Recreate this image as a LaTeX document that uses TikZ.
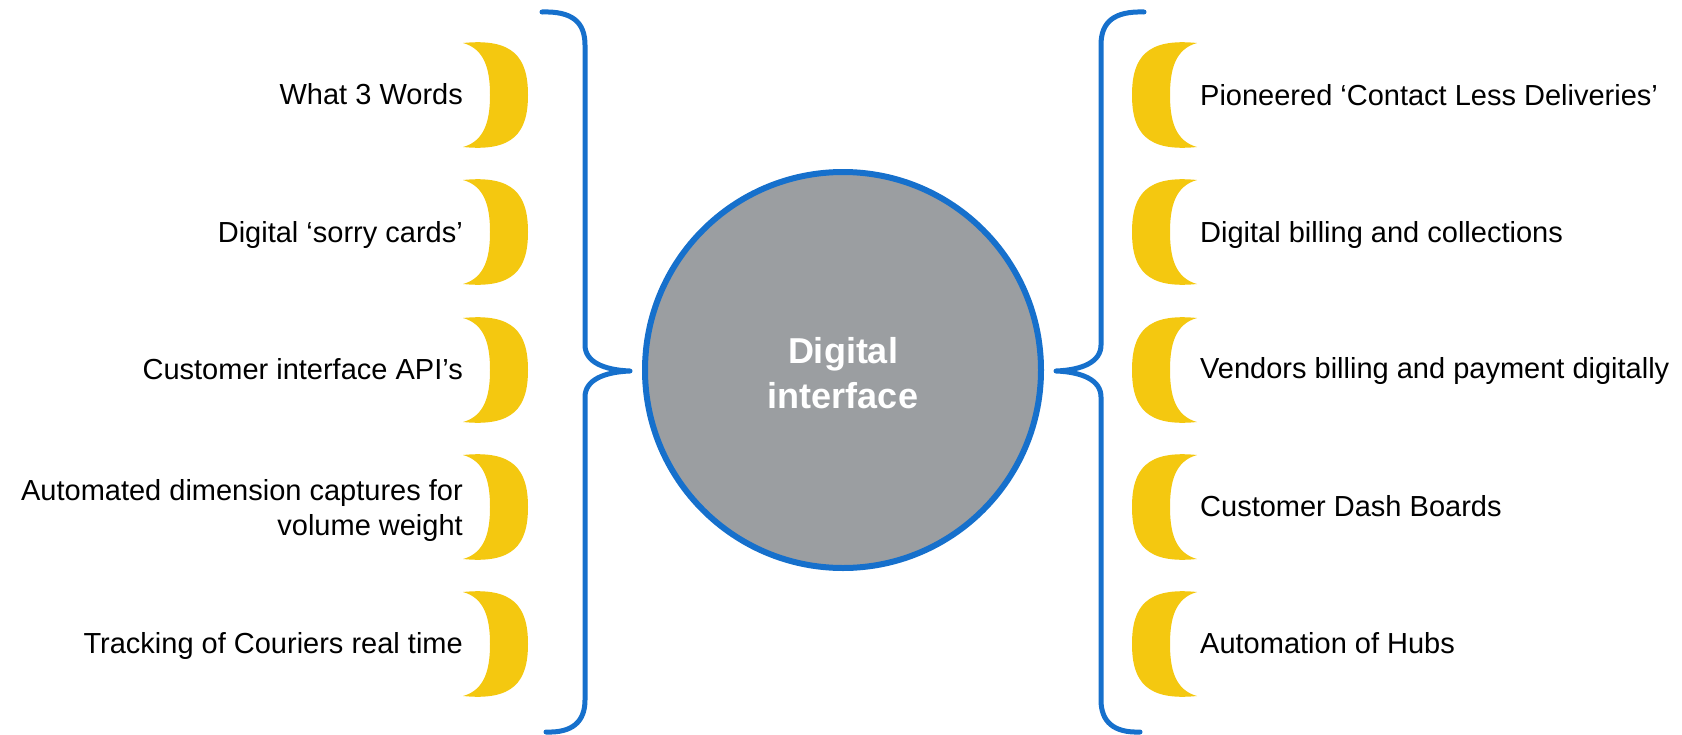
\documentclass[tikz,border=0pt]{standalone}
\usepackage{fontspec}
\setmainfont{Liberation Sans}
\definecolor{braceblue}{RGB}{22,112,204}
\definecolor{moongold}{RGB}{244,200,16}
\definecolor{hubgray}{RGB}{155,158,161}
\begin{document}
\begin{tikzpicture}[x=1pt,y=-1pt,
  item/.style={inner sep=0pt, font=\fontsize{29}{35}\selectfont},
  brace/.style={draw=braceblue, line width=5pt, line cap=round, line join=round},
  moon/.style={fill=moongold},
  % crescent opening to the left
  lmoon/.pic={\fill[moon] (-32,-52) .. controls (18,-57) and (33,-38) .. (33,0)
      .. controls (33,38) and (18,57) .. (-32,52)
      .. controls (-10,46) and (-5,25) .. (-5,0)
      .. controls (-5,-25) and (-10,-46) .. (-32,-52) -- cycle;},
  % crescent opening to the right
  rmoon/.pic={\fill[moon] (32,-52) .. controls (-18,-57) and (-33,-38) .. (-33,0)
      .. controls (-33,38) and (-18,57) .. (32,52)
      .. controls (10,46) and (5,25) .. (5,0)
      .. controls (5,-25) and (10,-46) .. (32,-52) -- cycle;}]
\useasboundingbox (0,0) rectangle (1682,734);

% central hub
\node[circle, draw=braceblue, line width=6pt, fill=hubgray, minimum size=396pt, inner sep=0pt] (hub) at (843,370) {};
\node[text=white, font=\bfseries\fontsize{36}{45}\selectfont, align=center, inner sep=0pt, anchor=base] (hubtext) at (843,408) {Digital\\interface};

% brace tips
\coordinate (ltop) at (542,12);
\coordinate (lmid) at (630,371);
\coordinate (lbot) at (546,732);
\coordinate (rtop) at (1144,12);
\coordinate (rmid) at (1056,371);
\coordinate (rbot) at (1140,732);

% left brace
\draw[brace] (ltop) .. controls (572,11) and (585,22) .. (585,45)
  -- (585,345) .. controls (585,362) and (604,370) .. (lmid)
  .. controls (604,372) and (585,380) .. (585,397)
  -- (585,700) .. controls (585,722) and (572,733) .. (lbot);

% right brace
\draw[brace] (rtop) .. controls (1114,11) and (1101,22) .. (1101,45)
  -- (1101,345) .. controls (1101,362) and (1082,370) .. (rmid)
  .. controls (1082,372) and (1101,380) .. (1101,397)
  -- (1101,700) .. controls (1101,722) and (1114,733) .. (rbot);

% crescents
\foreach \yc in {95,232,370,507,644} {
  \pic at (495,\yc) {lmoon};
  \pic at (1165,\yc) {rmoon};
}

% left items
\node[item, anchor=base east] (l1) at (463,104) {What 3 Words};
\node[item, anchor=base east] (l2) at (463,242) {Digital ‘sorry cards’};
\node[item, anchor=base east] (l3) at (463,379) {Customer interface API’s};
\node[item, anchor=base east, align=right] (l4) at (463,535) {Automated dimension captures for\\volume weight};
\node[item, anchor=base east] (l5) at (463,653) {Tracking of Couriers real time};

% right items
\node[item, anchor=base west] (r1) at (1200,105) {Pioneered ‘Contact Less Deliveries’};
\node[item, anchor=base west] (r2) at (1200,242) {Digital billing and collections};
\node[item, anchor=base west] (r3) at (1200,378) {Vendors billing and payment digitally};
\node[item, anchor=base west] (r4) at (1200,516) {Customer Dash Boards};
\node[item, anchor=base west] (r5) at (1200,653) {Automation of Hubs};
\end{tikzpicture}
\end{document}
